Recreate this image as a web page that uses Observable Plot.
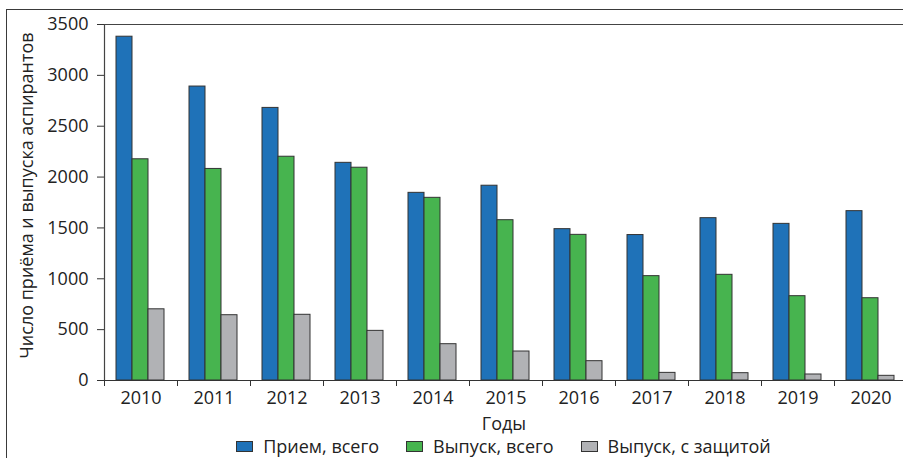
<!DOCTYPE html>
<html>
<head>
<meta charset="utf-8">
<script src="https://cdn.jsdelivr.net/npm/d3@7"></script>
<script src="https://cdn.jsdelivr.net/npm/@observablehq/plot@0.6"></script>
<style>
  html, body { margin: 0; padding: 0; background: #fff; }
  #wrap { position: relative; width: 903px; height: 458px; overflow: hidden; font-family: "Open Sans", sans-serif; color: #222; }
  #frame { position: absolute; left: 6px; top: 9px; right: -10px; bottom: -10px; border-left: 1.5px solid #3a3a3a; border-top: 1.5px solid #3a3a3a; }
  #chart { position: absolute; left: 0; top: 0; }
  #legend { position: absolute; left: 104px; width: 799px; top: 435px; height: 22px; display: flex; justify-content: center; align-items: center; gap: 27px; font-size: 18px; }
  .item { display: flex; align-items: center; gap: 10px; }
  .sw { width: 17px; height: 11px; border: 1px solid #333; box-sizing: border-box; }
</style>
</head>
<body>
<div id="wrap">
  <div id="frame"></div>
  <div id="chart"></div>
  <div id="legend"></div>
</div>
<script>
const years = ["2010","2011","2012","2013","2014","2015","2016","2017","2018","2019","2020"];
const admitted  = [3380, 2890, 2680, 2140, 1845, 1915, 1488, 1430, 1596, 1540, 1665];
const graduated = [2175, 2080, 2200, 2092, 1796, 1576, 1432, 1026, 1039, 829, 809];
const defended  = [700, 642, 646, 488, 357, 285, 190, 75, 72, 59, 46];
const seriesNames = ["Прием, всего", "Выпуск, всего", "Выпуск, с защитой"];
const seriesColors = ["#1f72b8", "#47b44f", "#b1b2b5"];
const yTicks = [0, 500, 1000, 1500, 2000, 2500, 3000, 3500];
const xTitle = "Годы";
const yTitle = "Число приёма и выпуска аспирантов";

const seriesValues = [admitted, graduated, defended];
const tables = seriesValues.map(vals => years.map((y, i) => ({year: y, value: vals[i]})));

const W = 903, H = 458;
const left = 104, right = 907;
const bw = (right - left) / years.length;
// bar placement within each year band (pixels)
const insets = [[12, bw - 28], [28, bw - 44], [44, bw - 60]];

const font = "Open Sans, sans-serif";

const chart = Plot.plot({
  width: W,
  height: H,
  marginTop: 24,
  marginBottom: 78,
  marginLeft: left,
  marginRight: 0,
  style: {fontFamily: font, fontSize: "18px", color: "#222", background: "transparent", overflow: "hidden"},
  x: {type: "band", domain: years, range: [left, right], padding: 0},
  y: {domain: [0, 3500]},
  marks: [
    ...tables.map((t, k) => Plot.barY(t, {
      x: "year", y: "value",
      fill: seriesColors[k], stroke: "#333", strokeWidth: 1,
      insetLeft: insets[k][0], insetRight: insets[k][1]
    })),
    Plot.ruleY([0], {stroke: "#333", strokeWidth: 1.2}),
    Plot.ruleY([3500], {stroke: "#444", strokeWidth: 1.2}),
    Plot.ruleX([years[0]], {dx: -bw / 2, stroke: "#444", strokeWidth: 1.2}),
    Plot.axisY({ticks: yTicks, tickSize: 7, tickPadding: 9, tickFormat: d => String(d), stroke: "#333", label: null, fontSize: 18, fill: "#222"}),
    Plot.axisX({tickSize: 6, tickFormat: () => "", dx: -bw / 2, stroke: "#333", label: null}),
    Plot.axisX({tickSize: 0, tickPadding: 11, label: null, fontSize: 18, fill: "#222"}),
    Plot.text([xTitle], {frameAnchor: "bottom", dy: 37, lineAnchor: "top", fontSize: 18, fill: "#222"}),
    Plot.text([yTitle], {frameAnchor: "left", rotate: -90, dx: -77, dy: -7, lineAnchor: "middle", textAnchor: "middle", fontSize: 18, fill: "#222"})
  ]
});
document.getElementById("chart").appendChild(chart);

const legend = document.getElementById("legend");
seriesNames.forEach((name, k) => {
  const item = document.createElement("div");
  item.className = "item";
  const sw = document.createElement("div");
  sw.className = "sw";
  sw.style.background = seriesColors[k];
  const label = document.createElement("span");
  label.textContent = name;
  item.appendChild(sw);
  item.appendChild(label);
  legend.appendChild(item);
});
</script>
</body>
</html>
